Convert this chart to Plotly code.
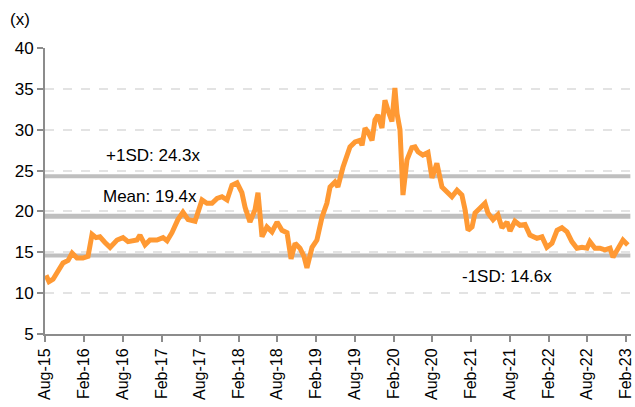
import plotly.graph_objects as go

dates = [
    "2015-08-06", "2015-08-20", "2015-09-08", "2015-09-27", "2015-10-25", "2015-11-18",
    "2015-12-07", "2015-12-30", "2016-01-27", "2016-02-20", "2016-03-10", "2016-03-29",
    "2016-04-16", "2016-05-10", "2016-06-03", "2016-07-06", "2016-08-03", "2016-08-27",
    "2016-09-19", "2016-10-08", "2016-10-22", "2016-11-15", "2016-12-08", "2017-01-10",
    "2017-02-08", "2017-02-27", "2017-03-22", "2017-04-05", "2017-04-19", "2017-05-13",
    "2017-06-06", "2017-07-09", "2017-08-11", "2017-09-03", "2017-09-27", "2017-10-21",
    "2017-11-13", "2017-12-07", "2017-12-30", "2018-01-23", "2018-02-15", "2018-03-02",
    "2018-03-25", "2018-04-18", "2018-05-02", "2018-05-21", "2018-06-13", "2018-07-07",
    "2018-07-31", "2018-08-23", "2018-09-16", "2018-10-05", "2018-10-24", "2018-11-16",
    "2018-12-05", "2018-12-19", "2019-01-12", "2019-02-04", "2019-02-28", "2019-03-23",
    "2019-04-07", "2019-04-30", "2019-05-14", "2019-06-07", "2019-06-26", "2019-07-10",
    "2019-08-03", "2019-08-26", "2019-09-05", "2019-09-19", "2019-10-03", "2019-10-22",
    "2019-11-05", "2019-11-19", "2019-12-08", "2019-12-22", "2020-01-05", "2020-01-24",
    "2020-02-07", "2020-02-17", "2020-03-02", "2020-03-16", "2020-04-04", "2020-04-27",
    "2020-05-12", "2020-05-26", "2020-06-18", "2020-07-12", "2020-07-31", "2020-08-23",
    "2020-09-16", "2020-10-10", "2020-11-02", "2020-11-26", "2020-12-19", "2021-01-03",
    "2021-01-17", "2021-02-05", "2021-02-19", "2021-03-14", "2021-04-07", "2021-04-21",
    "2021-05-15", "2021-06-07", "2021-06-26", "2021-07-20", "2021-08-03", "2021-08-26",
    "2021-09-19", "2021-10-13", "2021-11-05", "2021-12-08", "2022-01-01", "2022-01-24",
    "2022-02-17", "2022-03-13", "2022-04-05", "2022-04-29", "2022-05-22", "2022-06-15",
    "2022-07-09", "2022-08-01", "2022-08-15", "2022-09-08", "2022-10-01", "2022-10-25",
    "2022-11-18", "2022-12-02", "2022-12-25", "2023-01-18", "2023-02-10",
]
pe_values = [
    12.2, 11.4, 11.7, 12.6, 13.7, 14.0,
    14.9, 14.3, 14.3, 14.5, 17.2, 16.8,
    16.9, 16.2, 15.6, 16.5, 16.8, 16.3,
    16.4, 16.5, 17.1, 15.9, 16.5, 16.5,
    16.8, 16.4, 17.4, 18.3, 19.0, 19.9,
    19.0, 18.8, 21.4, 21.0, 21.0, 21.6,
    21.8, 21.4, 23.2, 23.5, 22.3, 20.5,
    18.7, 20.2, 22.3, 16.9, 18.1, 17.5,
    18.7, 17.7, 17.4, 14.2, 16.1, 15.5,
    14.5, 13.1, 15.6, 16.5, 19.3, 21.0,
    23.0, 23.6, 23.0, 25.4, 26.7, 27.9,
    28.5, 28.7, 28.1, 30.2, 29.7, 28.7,
    31.2, 31.8, 30.2, 33.6, 32.4, 31.0,
    35.1, 32.0, 30.0, 22.0, 26.3, 27.8,
    27.9, 27.3, 26.9, 27.2, 24.1, 25.9,
    23.0, 22.4, 21.8, 22.6, 22.0, 20.2,
    17.7, 18.1, 19.8, 20.4, 21.0, 19.8,
    19.0, 19.6, 18.0, 18.7, 17.6, 18.8,
    18.3, 18.4, 17.1, 16.7, 16.9, 15.6,
    16.1, 17.7, 18.0, 17.5, 16.3, 15.5,
    15.6, 15.5, 16.3, 15.5, 15.5, 15.3,
    15.5, 14.4, 15.3, 16.5, 15.9,
]

mean_val = 19.4
plus_sd = 24.3
minus_sd = 14.6

tick_dates = [
    "2015-08-01", "2016-02-01", "2016-08-01", "2017-02-01", "2017-08-01", "2018-02-01",
    "2018-08-01", "2019-02-01", "2019-08-01", "2020-02-01", "2020-08-01", "2021-02-01",
    "2021-08-01", "2022-02-01", "2022-08-01", "2023-02-01",
]
tick_labels = [
    "Aug-15", "Feb-16", "Aug-16", "Feb-17", "Aug-17", "Feb-18", "Aug-18", "Feb-19",
    "Aug-19", "Feb-20", "Aug-20", "Feb-21", "Aug-21", "Feb-22", "Aug-22", "Feb-23",
]

x_start = "2015-08-01"
x_end = "2023-02-25"
line_end = "2023-02-22"

FONT = "Liberation Sans, Arial, sans-serif"
GRAY = "#bfbfbf"

fig = go.Figure()

for val, w in [(plus_sd, 4), (mean_val, 5), (minus_sd, 4)]:
    fig.add_trace(go.Scatter(
        x=[x_start, line_end], y=[val, val], mode="lines",
        line=dict(color=GRAY, width=w), hoverinfo="skip", showlegend=False,
    ))

fig.add_trace(go.Scatter(
    x=dates, y=pe_values, mode="lines",
    line=dict(color="#FF9933", width=5, shape="linear"),
    showlegend=False,
))

fig.add_annotation(x="2016-12-27", y=plus_sd, text=f"+1SD: {plus_sd}x", showarrow=False,
                   yshift=21, font=dict(family=FONT, size=17, color="#000"))
fig.add_annotation(x="2016-12-08", y=mean_val, text=f"Mean: {mean_val}x", showarrow=False,
                   yshift=20, font=dict(family=FONT, size=17, color="#000"))
fig.add_annotation(x="2021-07-20", y=minus_sd, text=f"-1SD: {minus_sd}x", showarrow=False,
                   yshift=-21, font=dict(family=FONT, size=17, color="#000"))
fig.add_annotation(x=0, xref="paper", xanchor="left", xshift=-37, y=1, yref="paper",
                   yanchor="bottom", yshift=17, text="(x)", showarrow=False,
                   font=dict(family=FONT, size=17, color="#000"))

fig.update_layout(
    width=635, height=407,
    margin=dict(l=45, r=4, t=48, b=73, autoexpand=False),
    plot_bgcolor="white", paper_bgcolor="white",
    font=dict(family=FONT, size=17, color="#000"),
)
fig.update_xaxes(
    type="date", range=[x_start, x_end], automargin=False,
    tickmode="array", tickvals=tick_dates, ticktext=tick_labels, tickangle=-90,
    showgrid=False, showline=True, linecolor="#8c8c8c", linewidth=2,
    ticks="outside", ticklen=6, tickcolor="#8c8c8c", tickwidth=2,
    tickfont=dict(family=FONT, size=16, color="#000"),
    zeroline=False,
)
fig.update_yaxes(
    range=[5, 40], dtick=5, tick0=5, automargin=False,
    showgrid=True, gridcolor="#e3e3e3", griddash="dash", gridwidth=1.5,
    showline=True, linecolor="#8c8c8c", linewidth=2,
    ticks="outside", ticklen=6, tickcolor="#8c8c8c", tickwidth=2,
    tickfont=dict(family=FONT, size=17, color="#000"),
    zeroline=False,
)

fig.write_html(
    "out.html",
    config={"displayModeBar": False},
    post_script="document.body.style.margin='0';document.body.style.overflow='hidden';",
)
